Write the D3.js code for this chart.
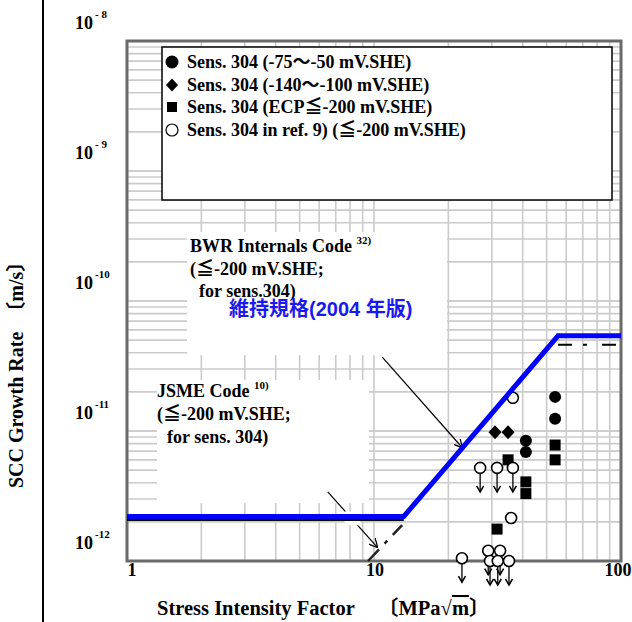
<!DOCTYPE html>
<html><head><meta charset="utf-8">
<script src="https://cdn.jsdelivr.net/npm/d3@7"></script>
<style>html,body{margin:0;padding:0;background:#fff;}svg{display:block;}</style>
</head><body>
<svg id="c" width="632" height="622"></svg>
<script>
// ---- data ----
const xTicks = [1, 10, 100];
const yTicks = [1e-8, 1e-9, 1e-10, 1e-11, 1e-12];
const yTickExp = ["- 8", "- 9", "-10", "-11", "-12"];

const legendLabels = [
  "Sens. 304 (-75～-50 mV.SHE)",
  "Sens. 304 (-140～-100 mV.SHE)",
  "Sens. 304 (ECP≦-200 mV.SHE)",
  "Sens. 304 in ref. 9) (≦-200 mV.SHE)"
];

// filled circles: Sens. 304 (-75~-50 mV.SHE)
const circK    = [54.1, 54.1, 41.2, 41.2];
const circRate = [1.83e-11, 1.24e-11, 8.4e-12, 6.9e-12];
// diamonds: Sens. 304 (-140~-100 mV.SHE)
const diaK    = [30.9, 34.9];
const diaRate = [9.8e-12, 9.8e-12];
// squares: Sens. 304 (ECP<=-200 mV.SHE)
const sqK    = [54.1, 54.1, 34.9, 41.2, 41.2, 31.5];
const sqRate = [7.8e-12, 6.0e-12, 6.0e-12, 4.06e-12, 3.3e-12, 1.76e-12];
// open circles: ref. 9
const refK    = [36.5, 35.9];
const refRate = [1.8e-11, 2.14e-12];
// open circles with "less than" arrows: ref. 9
const refUpK    = [26.9, 31.5, 36.5, 22.7, 29.0, 32.4, 29.5, 31.7, 35.2];
const refUpRate = [5.2e-12, 5.2e-12, 5.2e-12, 1.05e-12, 1.2e-12, 1.2e-12, 1.0e-12, 1.0e-12, 1.0e-12];

// code lines
const maintK    = [1, 13.2, 55.6, 100];          // 維持規格(2004年版)
const maintRate = [2.2e-12, 2.2e-12, 5.4e-11, 5.4e-11];
const jsmeFlatK    = [1, 13.2];
const jsmeFlatRate = [2.07e-12, 2.07e-12];
const jsmeSlopeK    = [9.46, 13.0];
const jsmeSlopeRate = [1.0e-12, 1.89e-12];
const bwrTopK    = [55.6, 100];
const bwrTopRate = [4.6e-11, 4.6e-11];

// annotation arrows (data coords)
const bwrArrowK = [10.8, 22.7], bwrArrowRate = [3.7e-11, 7.5e-12];
const jsmeArrowK = [6.5, 10.3], jsmeArrowRate = [3.4e-12, 1.28e-12];
const jsmeGapK = [7.6, 8.8], jsmeGapRate = [2.13e-12, 2.13e-12];

// ---- drawing ----
const svg = d3.select("#c");
const x = d3.scaleLog().domain([1, 100]).range([127, 621]);
const y = d3.scaleLog().domain([1e-12, 1e-8]).range([561, 41]);
const serif = "'Liberation Serif','Noto Sans CJK JP','Times New Roman',serif";

svg.append("defs").append("marker").attr("id","ah").attr("viewBox","0 0 10 10")
  .attr("refX",9).attr("refY",5).attr("markerWidth",9).attr("markerHeight",9)
  .attr("orient","auto-start-reverse").attr("markerUnits","userSpaceOnUse")
  .append("path").attr("d","M0,0 L10,5 L0,10").attr("fill","none").attr("stroke","#000").attr("stroke-width",1.4);

// grid
const gx = [], gy = [];
for (let e = 0; e < 2; e++) for (let m = 2; m <= 10; m++) gx.push(m * Math.pow(10, e));
for (let e = -12; e < -8; e++) for (let m = 1; m <= 10; m++) gy.push(m * Math.pow(10, e));
const grid = svg.append("g").attr("stroke","#cbcbcb").attr("stroke-width",1.6);
grid.selectAll("line.v").data(gx).join("line").attr("x1",d=>x(d)).attr("x2",d=>x(d)).attr("y1",y(1e-8)).attr("y2",y(1e-12));
grid.selectAll("line.h").data(gy).join("line").attr("y1",d=>y(d)).attr("y2",d=>y(d)).attr("x1",x(1)).attr("x2",x(100));

// white boxes over grid
svg.append("rect").attr("x",187).attr("y",232).attr("width",260).attr("height",123).attr("fill","#fff");
svg.append("rect").attr("x",157).attr("y",380).attr("width",212).attr("height",123).attr("fill","#fff");

// frame
svg.append("rect").attr("x",x(1)).attr("y",y(1e-8)).attr("width",x(100)-x(1)).attr("height",y(1e-12)-y(1e-8))
  .attr("fill","none").attr("stroke","#6a6a6a").attr("stroke-width",3);

// legend box
svg.append("rect").attr("x",162).attr("y",47).attr("width",450).attr("height",153)
  .attr("fill","#fff").attr("stroke","#000").attr("stroke-width",1.5);

// left black line
svg.append("line").attr("x1",43).attr("x2",43).attr("y1",0).attr("y2",622).attr("stroke","#000").attr("stroke-width",2);

const line = d3.line().x(d=>x(d[0])).y(d=>y(d[1]));
const zip = (a,b)=>a.map((v,i)=>[v,b[i]]);

// annotation arrows
svg.append("line").attr("x1",x(bwrArrowK[0])).attr("y1",y(bwrArrowRate[0])).attr("x2",x(bwrArrowK[1])).attr("y2",y(bwrArrowRate[1]))
  .attr("stroke","#000").attr("stroke-width",1.2).attr("marker-end","url(#ah)");
svg.append("line").attr("x1",x(jsmeArrowK[0])).attr("y1",y(jsmeArrowRate[0])).attr("x2",x(jsmeArrowK[1])).attr("y2",y(jsmeArrowRate[1]))
  .attr("stroke","#000").attr("stroke-width",1.2).attr("marker-end","url(#ah)");
// white gap where JSME arrow passes under the code lines
svg.append("path").attr("d",line(zip(jsmeGapK,jsmeGapRate))).attr("stroke","#fff").attr("stroke-width",14);

// code lines (black)
svg.append("path").attr("d",line(zip(jsmeFlatK,jsmeFlatRate))).attr("fill","none").attr("stroke","#000").attr("stroke-width",2);
svg.append("path").attr("d",line(zip(jsmeSlopeK,jsmeSlopeRate))).attr("fill","none").attr("stroke","#222").attr("stroke-width",2.5).attr("stroke-dasharray","16,8,4,8");
svg.append("path").attr("d",line(zip(bwrTopK,bwrTopRate))).attr("fill","none").attr("stroke","#000").attr("stroke-width",2).attr("stroke-dasharray","14,11,4,15");

// markers
const pts = svg.append("g");
pts.selectAll("circle.f").data(zip(circK,circRate)).join("circle")
  .attr("cx",d=>x(d[0])).attr("cy",d=>y(d[1])).attr("r",6).attr("fill","#000");
pts.selectAll("path.d").data(zip(diaK,diaRate)).join("path")
  .attr("transform",d=>`translate(${x(d[0])},${y(d[1])})`).attr("d","M0,-7L6.5,0L0,7L-6.5,0Z").attr("fill","#000");
pts.selectAll("rect.s").data(zip(sqK,sqRate)).join("rect")
  .attr("x",d=>x(d[0])-5.5).attr("y",d=>y(d[1])-5.5).attr("width",11).attr("height",11).attr("fill","#000");
const up = pts.selectAll("g.u").data(zip(refUpK,refUpRate)).join("g")
  .attr("transform",d=>`translate(${x(d[0])},${y(d[1])})`);
up.append("line").attr("x1",0).attr("x2",0).attr("y1",5).attr("y2",24).attr("stroke","#000").attr("stroke-width",1.3);
up.append("path").attr("d","M-3.5,18L0,24L3.5,18").attr("fill","none").attr("stroke","#000").attr("stroke-width",1.5);
up.append("circle").attr("r",5.5).attr("fill","#fff").attr("stroke","#000").attr("stroke-width",1.6);
pts.selectAll("circle.o").data(zip(refK,refRate)).join("circle")
  .attr("cx",d=>x(d[0])).attr("cy",d=>y(d[1])).attr("r",5.5).attr("fill","#fff").attr("stroke","#000").attr("stroke-width",1.6);

// blue maintenance standard line
svg.append("path").attr("d",line(zip(maintK,maintRate))).attr("fill","none").attr("stroke","#0000ff").attr("stroke-width",5).attr("stroke-linejoin","miter");

// legend contents
const lg = svg.append("g");
const rowY = [62, 85, 107, 130];
lg.append("circle").attr("cx",172).attr("cy",rowY[0]).attr("r",6.5).attr("fill","#000");
lg.append("path").attr("transform",`translate(172,${rowY[1]})`).attr("d","M0,-6.5L6,0L0,6.5L-6,0Z").attr("fill","#000");
lg.append("rect").attr("x",167).attr("y",rowY[2]-5).attr("width",10).attr("height",10).attr("fill","#000");
lg.append("circle").attr("cx",172).attr("cy",rowY[3]).attr("r",6).attr("fill","#fff").attr("stroke","#000").attr("stroke-width",1.2);
lg.selectAll("text").data(legendLabels).join("text")
  .attr("x",187).attr("y",(d,i)=>rowY[i]+6).attr("font-family",serif).attr("font-weight","bold").attr("font-size",18)
  .text(d=>d);

// y tick labels (10^-n)
const yt = svg.append("g").attr("font-family",serif).attr("font-weight","bold");
yTicks.forEach((v,i)=>{
  const by = y(v) - 12;
  yt.append("text").attr("x",75).attr("y",by).attr("font-size",18).text("10");
  yt.append("text").attr("x",95).attr("y",by-11).attr("font-size",11).text(yTickExp[i]);
});

// x tick labels
svg.append("g").selectAll("text").data(xTicks).join("text")
  .attr("x",d=>Math.max(132, Math.min(618, x(d)+1))).attr("y",576).attr("text-anchor","middle")
  .attr("font-family",serif).attr("font-weight","bold").attr("font-size",18).text(d=>d);

// axis titles
svg.append("text").attr("x",157).attr("y",615).attr("font-family",serif).attr("font-weight","bold").attr("font-size",20.5)
  .text("Stress Intensity Factor");
const xt2 = svg.append("text").attr("x",378).attr("y",615).attr("font-family",serif).attr("font-weight","bold").attr("font-size",20.5);
xt2.append("tspan").text("〔MPa√");
xt2.append("tspan").attr("text-decoration","overline").text("m");
xt2.append("tspan").text("〕");

svg.append("text").attr("transform","translate(23,488) rotate(-90)").attr("font-family",serif).attr("font-weight","bold")
  .attr("font-size",20).text("SCC Growth Rate　〔m/s〕");

// code annotations
const ann = svg.append("g").attr("font-family",serif).attr("font-weight","bold").attr("font-size",18);
const t1 = ann.append("text").attr("x",190).attr("y",252);
t1.append("tspan").text("BWR Internals Code ");
t1.append("tspan").attr("font-size",11).attr("dy",-8).text("32)");
ann.append("text").attr("x",190).attr("y",275).text("(≦-200 mV.SHE;");
ann.append("text").attr("x",199).attr("y",297).text("for sens.304)");

const t2 = ann.append("text").attr("x",157).attr("y",397);
t2.append("tspan").text("JSME Code ");
t2.append("tspan").attr("font-size",11).attr("dy",-8).text("10)");
ann.append("text").attr("x",157).attr("y",420).text("(≦-200 mV.SHE;");
ann.append("text").attr("x",167).attr("y",443).text("for sens. 304)");

svg.append("text").attr("x",229).attr("y",316).attr("font-family","'Liberation Sans','Noto Sans CJK JP',sans-serif")
  .attr("font-weight","bold").attr("font-size",20).attr("fill","#1a1af0").text("維持規格(2004 年版)");
</script>
</body></html>
